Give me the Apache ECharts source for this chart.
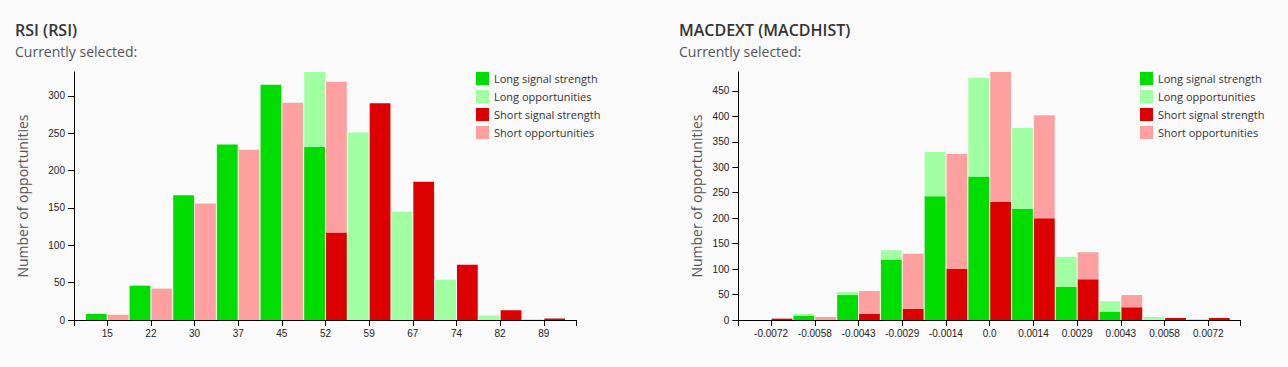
<!DOCTYPE html>
<html>
<head>
<meta charset="utf-8">
<script src="https://cdn.jsdelivr.net/npm/echarts@6/dist/echarts.min.js"></script>
<style>
html, body { margin: 0; padding: 0; background: #fafafa; }
#c { width: 1288px; height: 367px; }
</style>
</head>
<body>
<div id="c"></div>
<script>
// ---------- DATA ----------
const seriesNames = ['Long signal strength', 'Long opportunities', 'Short signal strength', 'Short opportunities'];

const rsiLabels = ['15', '22', '30', '37', '45', '52', '59', '67', '74', '82', '89'];
const rsiLongOpp = [8, 46, 167, 235, 315, 332, 251, 145, 54, 6, 1];
const rsiLongSignal = [8, 46, 167, 235, 315, 232, 0, 0, 0, 0, 0];
const rsiShortOpp = [7, 42, 156, 228, 291, 319, 290, 185, 74, 13, 2];
const rsiShortSignal = [0, 0, 0, 0, 0, 117, 290, 185, 74, 13, 2];

const macdLabels = ['-0.0072', '-0.0058', '-0.0043', '-0.0029', '-0.0014', '0.0', '0.0014', '0.0029', '0.0043', '0.0058', '0.0072'];
const macdLongOpp = [0, 12, 55, 137, 330, 475, 377, 124, 37, 6, 2];
const macdLongSignal = [0, 8, 49, 118, 243, 282, 218, 65, 16, 0, 0];
const macdShortOpp = [4, 6, 57, 130, 326, 487, 402, 133, 49, 4, 4];
const macdShortSignal = [2, 0, 12, 22, 100, 232, 200, 80, 25, 4, 4];

const yTickStep = 50;

// ---------- STYLE ----------
const COLORS = { longSig: '#00dd00', longOpp: '#a0ffa0', shortSig: '#dd0000', shortOpp: '#ffa0a0' };
const tickFont = 'Liberation Sans, Arial, sans-serif';
const textFont = 'Open Sans, sans-serif';

const option = {
  backgroundColor: '#fafafa',
  animation: false,
  title: [], legend: [], grid: [], xAxis: [], yAxis: [], series: []
};

function addPanel(p) {
  const g0 = option.grid.length;
  const g1 = g0 + 1;
  const yMax = Math.max(...p.longOpp, ...p.shortOpp);

  option.title.push({
    text: p.title, left: p.titleLeft, top: 22, padding: 0,
    textStyle: { fontSize: 16, fontWeight: 600, color: '#333', fontFamily: textFont }
  });
  option.title.push({
    text: 'Currently selected:', left: p.titleLeft, top: 44, padding: 0,
    textStyle: { fontSize: 14, fontWeight: 'normal', color: '#555', fontFamily: textFont }
  });

  // axis frame grid (wider), and bar grid (inner)
  option.grid.push({ left: p.axisLeft, width: p.axisWidth, top: 72, height: 248, containLabel: false });
  option.grid.push({ left: p.barLeft, width: p.barWidth, top: 72, height: 248, containLabel: false });

  option.xAxis.push({
    type: 'value', gridIndex: g0, min: 0, max: 1, interval: 1,
    axisLine: { show: true, lineStyle: { color: '#000', width: 1 } },
    axisTick: { show: true, length: 6, lineStyle: { color: '#000' } },
    axisLabel: { show: false }, splitLine: { show: false }
  });
  option.xAxis.push({
    type: 'category', gridIndex: g1, data: p.labels,
    axisLine: { show: false },
    axisTick: { show: true, alignWithLabel: true, length: 6, lineStyle: { color: '#000' } },
    axisLabel: { interval: 0, fontSize: 10, margin: 8, color: '#222', fontFamily: tickFont },
    splitLine: { show: false }
  });

  option.yAxis.push({
    type: 'value', gridIndex: g0, min: 0, max: yMax, interval: yTickStep,
    axisLine: { show: true, lineStyle: { color: '#000', width: 1 } },
    axisTick: { show: true, length: 6, lineStyle: { color: '#000' } },
    axisLabel: { fontSize: 10, margin: 9, color: '#222', fontFamily: tickFont, showMaxLabel: false },
    splitLine: { show: false },
    name: 'Number of opportunities', nameLocation: 'middle', nameRotate: 90, nameGap: p.nameGap,
    nameTextStyle: { fontSize: 14, color: '#555', fontFamily: textFont }
  });
  option.yAxis.push({
    type: 'value', gridIndex: g1, min: 0, max: yMax, show: false
  });

  const common = { type: 'bar', xAxisIndex: g1, yAxisIndex: g1, barCategoryGap: '2.4%', barGap: '5%' };
  option.series.push(Object.assign({}, common, {
    name: seriesNames[0], stack: 'L' + g0, data: p.longSignal, itemStyle: { color: COLORS.longSig }
  }));
  option.series.push(Object.assign({}, common, {
    name: seriesNames[1], stack: 'L' + g0, data: p.longOpp.map((v, i) => v - p.longSignal[i]), itemStyle: { color: COLORS.longOpp }
  }));
  option.series.push(Object.assign({}, common, {
    name: seriesNames[2], stack: 'S' + g0, data: p.shortSignal, itemStyle: { color: COLORS.shortSig }
  }));
  option.series.push(Object.assign({}, common, {
    name: seriesNames[3], stack: 'S' + g0, data: p.shortOpp.map((v, i) => v - p.shortSignal[i]), itemStyle: { color: COLORS.shortOpp }
  }));

  option.legend.push({
    data: seriesNames, orient: 'vertical', left: p.legendLeft, top: 72, padding: 0,
    itemWidth: 13, itemHeight: 13, itemGap: 5, icon: 'rect', selectedMode: false,
    textStyle: { fontSize: 11, color: '#333', fontFamily: textFont }
  });
}

addPanel({
  title: 'RSI (RSI)', titleLeft: 15, labels: rsiLabels,
  longOpp: rsiLongOpp, longSignal: rsiLongSignal, shortOpp: rsiShortOpp, shortSignal: rsiShortSignal,
  axisLeft: 74, axisWidth: 502.5, barLeft: 85.4, barWidth: 480.2, nameGap: 45, legendLeft: 476
});
addPanel({
  title: 'MACDEXT (MACDHIST)', titleLeft: 679, labels: macdLabels,
  longOpp: macdLongOpp, longSignal: macdLongSignal, shortOpp: macdShortOpp, shortSignal: macdShortSignal,
  axisLeft: 738.3, axisWidth: 502, barLeft: 749.2, barWidth: 481, nameGap: 35, legendLeft: 1140
});

const chart = echarts.init(document.getElementById('c'), null, { renderer: 'svg', width: 1288, height: 367 });
chart.setOption(option);
</script>
</body>
</html>
